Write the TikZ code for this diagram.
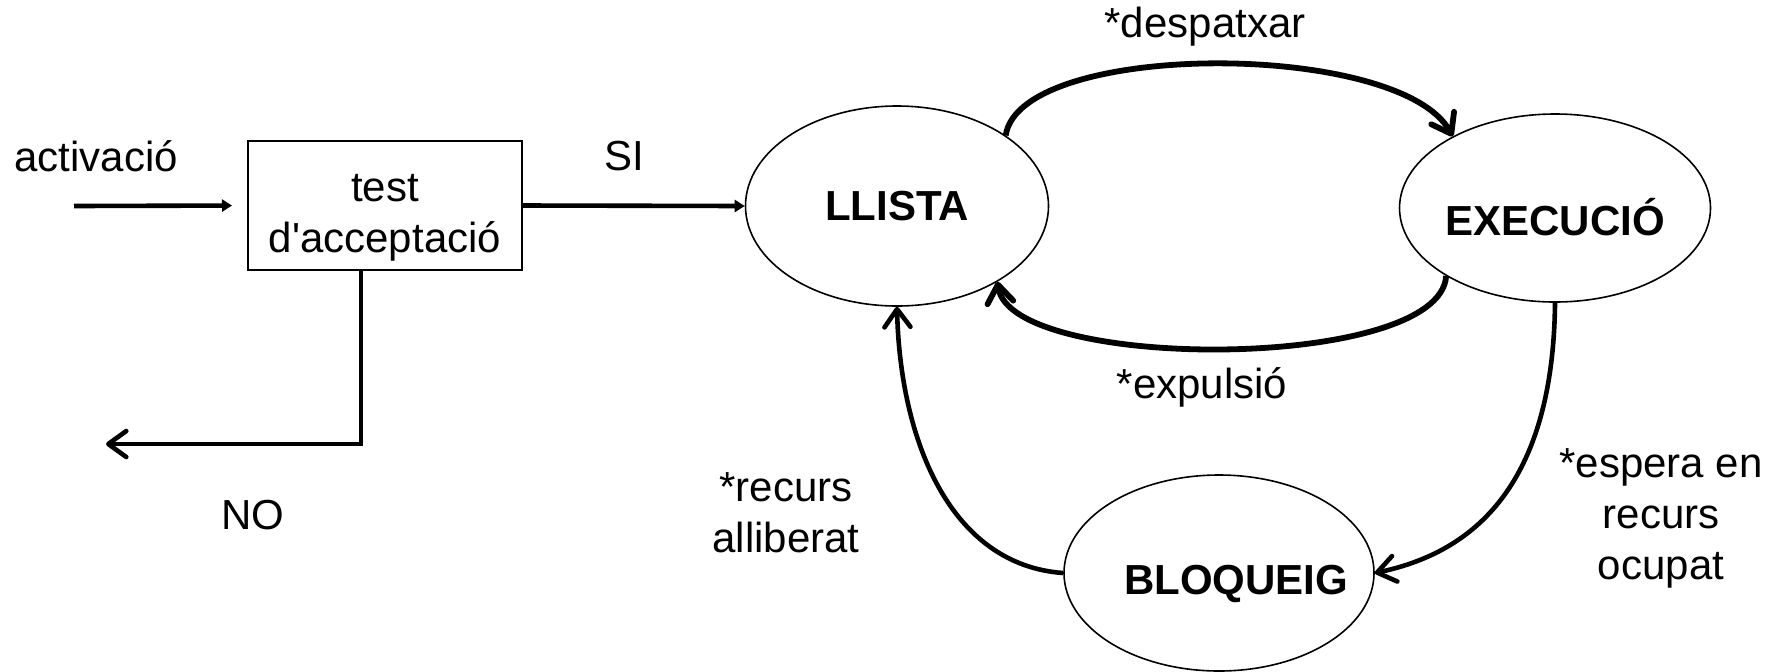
\documentclass[tikz,border=0pt]{standalone}
\usepackage{fontspec}
\setmainfont{Liberation Sans}
\usetikzlibrary{arrows.meta,shapes.geometric}

\begin{document}
\begin{tikzpicture}[x=0.5pt,y=-0.5pt,
  every node/.style={font=\fontsize{21}{25.5}\selectfont},
  state/.style={draw, ellipse, line width=0.8pt, inner sep=0pt,
                font=\fontsize{21}{25.5}\selectfont\bfseries},
  testbox/.style={draw, rectangle, line width=1pt, minimum width=137pt,
                  minimum height=64.5pt, inner sep=0pt, align=center},
  flow/.style={line width=2.3pt, -{Triangle[length=5pt,width=6pt]}},
  trans/.style={line width=2.3pt, -{Straight Barb[length=9pt,width=13pt,round]}},
  heavy/.style={line width=2.9pt},
  lbl/.style={align=center, inner sep=0pt},
]
\useasboundingbox (0,0) rectangle (1786,671);

% process states
\node[testbox] (test) at (385,205.5)
  {\rule{0pt}{25.5pt}test\\d\textquotesingle acceptació};
\node[state, minimum width=151.5pt, minimum height=100pt] (llista) at (897,206)
  {\makebox[0pt]{LLISTA}};
\node[state, minimum width=155.5pt, minimum height=94pt, text height=27pt, text depth=0pt]
  (exec) at (1555,208) {\makebox[0pt]{EXECUCIÓ}};
\node[state, minimum width=155pt, minimum height=98pt, text height=21pt, text depth=0pt]
  (bloq) at (1219,573) {\makebox[0pt]{\hspace*{17pt}BLOQUEIG}};

% labels
\node[lbl] (activ) at (96,156) {activació};
\node[lbl] (si) at (624,156) {SI};
\node[lbl] (no) at (253,515) {NO};
\node[lbl] (desp) at (1205,27) {*despatxar};
\node[lbl] (expul) at (1202,387) {*expulsió};
\node[lbl] (allib) at (786,513) {*recurs\\alliberat};
\node[lbl] (espera) at (1661,518) {*espera en\\recurs\\ocupat};

% admission
\coordinate (entry) at (74,206);
\coordinate (reject) at (106,444);
\draw[flow, shorten >=7.5pt] (entry) -- (test.west);
\draw[flow] (test.east) -- (llista.west);
\draw[trans] ([xshift=-12pt]test.south) |- (reject);

% transitions between states
\draw[trans, heavy] (llista.33) .. controls (1020,40) and (1400,40) .. (exec.145);
\draw[trans, heavy] (exec.212) .. controls (1440,372) and (1010,372) .. (llista.323);
\draw[trans] (bloq.west) .. controls (950,565) and (900,440) .. (llista.south);
\draw[trans] (exec.south) .. controls (1553,500) and (1460,555) .. (bloq.east);
\end{tikzpicture}
\end{document}
